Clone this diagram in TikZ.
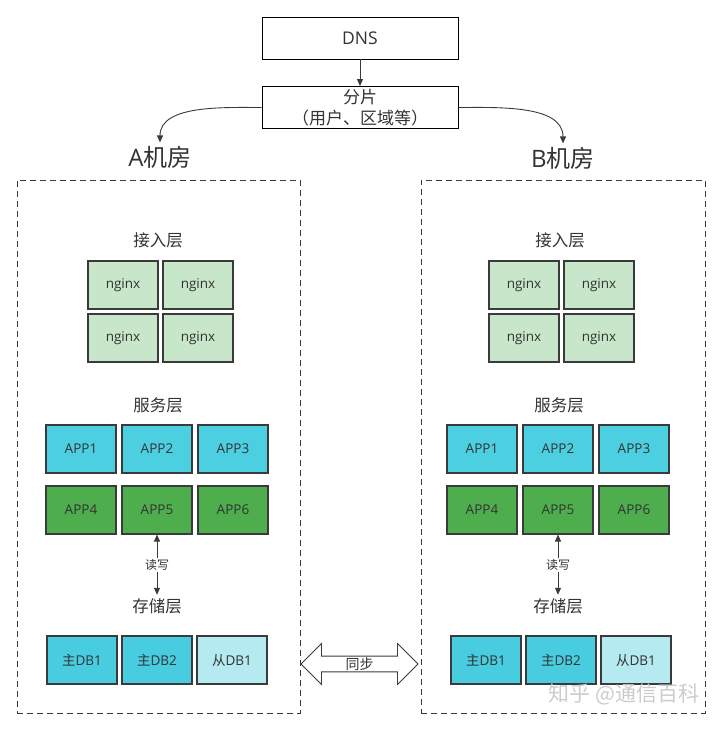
\documentclass[tikz,border=0pt]{standalone}
\usepackage{fontspec}
\setmainfont{Open Sans}
\newfontfamily\cjk{Noto Sans CJK SC}
\usetikzlibrary{arrows.meta,shapes.arrows}
\definecolor{ngx}{HTML}{C8E6C9}
\definecolor{appc}{HTML}{4DCFE2}
\definecolor{appg}{HTML}{4EAE4E}
\definecolor{dbm}{HTML}{48CCE0}
\definecolor{dbs}{HTML}{B4EAF0}
\definecolor{bord}{HTML}{3A3A3A}
\definecolor{txt}{HTML}{333333}
\tikzset{
  x=1pt,y=-1pt,
  plain/.style={draw=black,line width=0.9pt,fill=white,minimum width=196pt,minimum height=42pt,inner sep=0pt,font=\fontsize{17.5}{19}\selectfont,text=txt},
  cell/.style={draw=bord,line width=1.1pt,minimum width=70pt,minimum height=48pt,inner sep=0pt,font=\fontsize{13.5}{15}\selectfont,text=txt},
  ngxbox/.style={cell,fill=ngx},
  appcb/.style={cell,fill=appc},
  appgb/.style={cell,fill=appg},
  dbmb/.style={cell,fill=dbm},
  dbsb/.style={cell,fill=dbs},
  layer/.style={font=\cjk\fontsize{16.5}{18}\selectfont,text=txt},
  room/.style={font=\fontsize{24}{26}\selectfont,text=txt},
  zone/.style={draw=bord,line width=0.9pt,dash pattern=on 6pt off 4pt},
  arr/.style={-{Triangle[length=7pt,width=6pt]},line width=0.9pt,draw=bord},
}
\begin{document}
\begin{tikzpicture}
\useasboundingbox (0,0) rectangle (720,731);
\fill[white] (0,0) rectangle (720,731);
% top
\node[plain] (dns) at (360,38) {DNS};
\node[plain,align=center,font=\cjk\fontsize{17}{21}\selectfont] (shard) at (360,107.5) {分片\\（用户、区域等）};
\draw[arr] (dns) -- (shard);
\node[room] (ra) at (160,157) {A{\cjk 机房}};
\node[room] (rb) at (563,158) {B{\cjk 机房}};
\draw[arr] (shard.west) to[out=180,in=90,looseness=0.9] (ra.north);
\draw[arr] (shard.east) to[out=0,in=90,looseness=0.9] (rb.north);
% zones
\node[zone,minimum width=283pt,minimum height=533pt,inner sep=0pt] (za) at (158.5,446.5) {};
\node[zone,minimum width=284pt,minimum height=533pt,inner sep=0pt] (zb) at (563,446.5) {};
% left side
\node[layer] (la1) at (158,240) {接入层};
\node[ngxbox] (an1) at (123,285) {nginx};
\node[ngxbox] (an2) at (198,285) {nginx};
\node[ngxbox] (an3) at (123,338) {nginx};
\node[ngxbox] (an4) at (198,338) {nginx};
\node[layer] (la2) at (158,405) {服务层};
\node[appcb] (aa1) at (81,449) {APP1};
\node[appcb] (aa2) at (157,449) {APP2};
\node[appcb] (aa3) at (233,449) {APP3};
\node[appgb] (aa4) at (81,510) {APP4};
\node[appgb] (aa5) at (157,510) {APP5};
\node[appgb] (aa6) at (233,510) {APP6};
\node[font=\cjk\fontsize{12}{13}\selectfont,text=txt,inner sep=1pt] (arw) at (157,565) {读写};
\node[layer] (la3) at (157,606) {存储层};
\draw[arr] (arw) -- (aa5.south);
\draw[arr] (arw) -- (la3.north);
\node[dbmb] (ad1) at (82,660) {{\cjk 主}DB1};
\node[dbmb] (ad2) at (157,660) {{\cjk 主}DB2};
\node[dbsb] (ad3) at (232,660) {{\cjk 从}DB1};
% right side
\node[layer] (lb1) at (560,240) {接入层};
\node[ngxbox] (bn1) at (524,285) {nginx};
\node[ngxbox] (bn2) at (599,285) {nginx};
\node[ngxbox] (bn3) at (524,338) {nginx};
\node[ngxbox] (bn4) at (599,338) {nginx};
\node[layer] (lb2) at (559,405) {服务层};
\node[appcb] (ba1) at (482,449) {APP1};
\node[appcb] (ba2) at (558,449) {APP2};
\node[appcb] (ba3) at (634,449) {APP3};
\node[appgb] (ba4) at (482,510) {APP4};
\node[appgb] (ba5) at (558,510) {APP5};
\node[appgb] (ba6) at (634,510) {APP6};
\node[font=\cjk\fontsize{12}{13}\selectfont,text=txt,inner sep=1pt] (brw) at (558,565) {读写};
\node[layer] (lb3) at (558,606) {存储层};
\draw[arr] (brw) -- (ba5.south);
\draw[arr] (brw) -- (lb3.north);
\node[dbmb] (bd1) at (486,660) {{\cjk 主}DB1};
\node[dbmb] (bd2) at (561,660) {{\cjk 主}DB2};
\node[dbsb] (bd3) at (636,660) {{\cjk 从}DB1};
% sync arrow
\node[double arrow,draw=bord,line width=0.9pt,fill=white,minimum width=41pt,minimum height=117pt,double arrow head extend=11pt,double arrow tip angle=90,inner sep=0pt,font=\cjk\fontsize{14}{15}\selectfont,text=txt] (sync) at (359.5,664) {同步};
% watermark
\node[font=\cjk\fontsize{21}{22}\selectfont,text=black!20] (wm) at (624,694) {知乎 @通信百科};
\end{tikzpicture}
\end{document}
